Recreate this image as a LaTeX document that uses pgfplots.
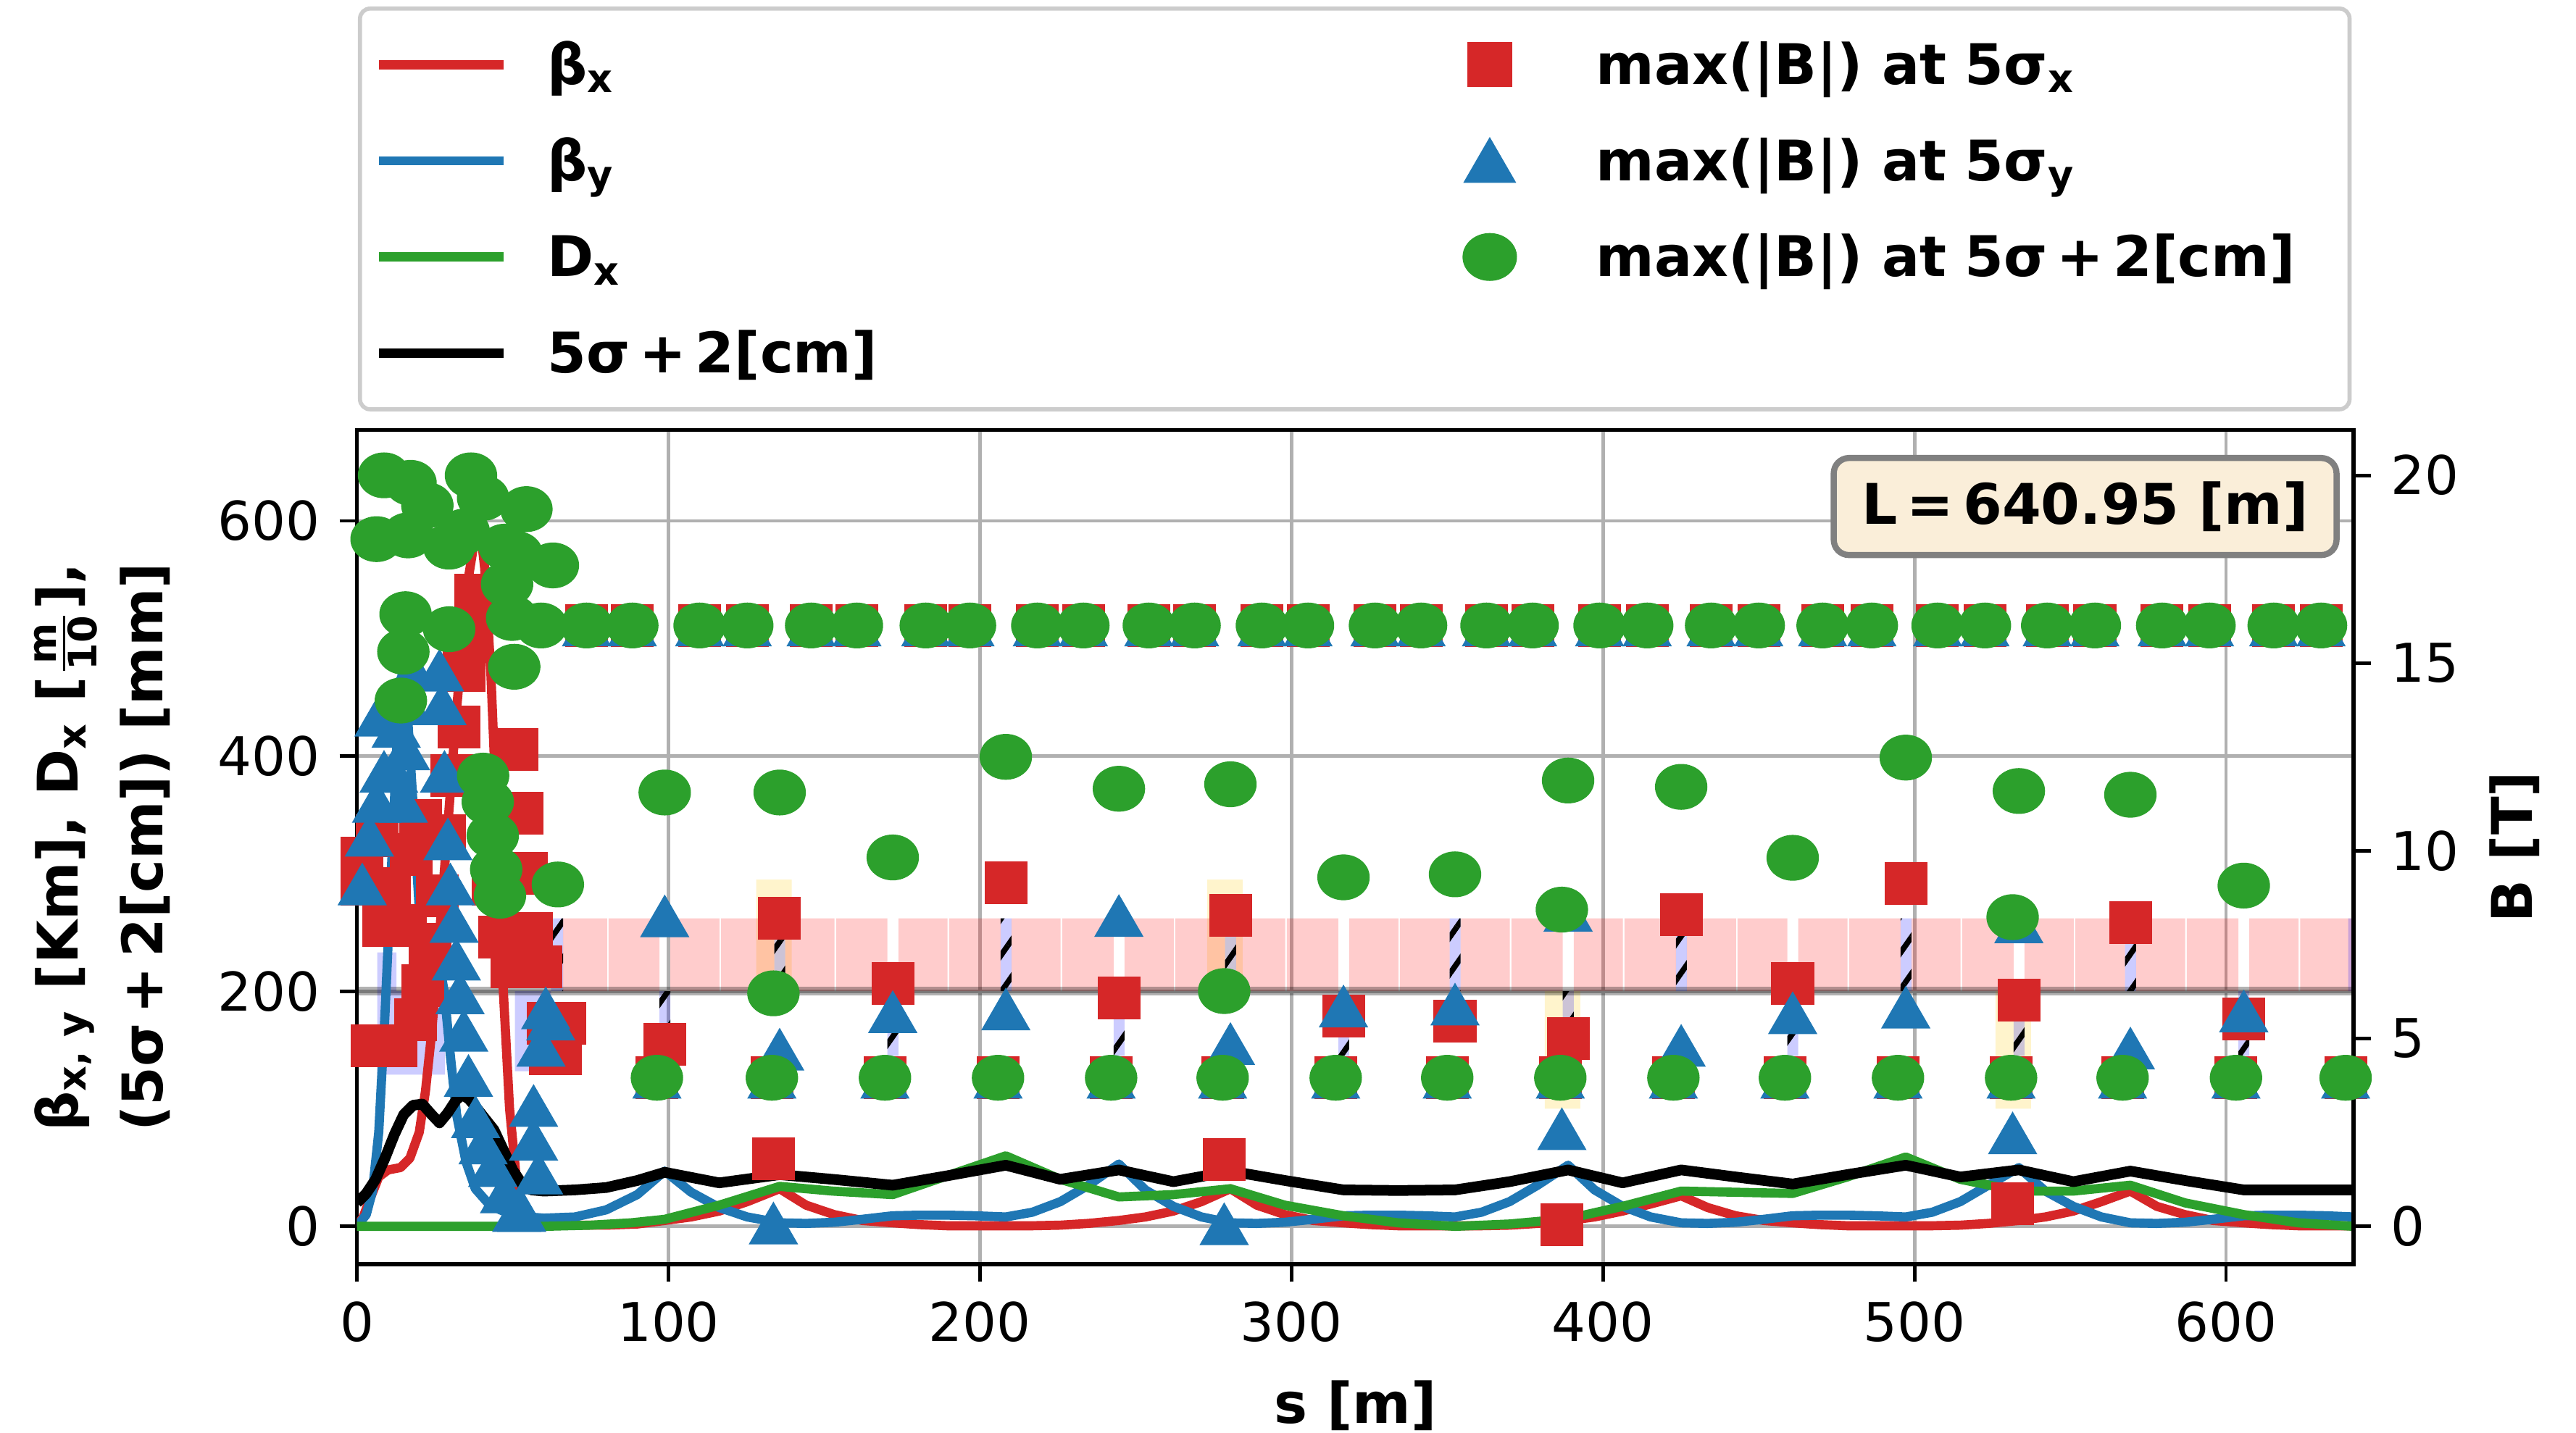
\documentclass[border=0pt]{standalone}
\usepackage{fontspec}
\setmainfont{DejaVu Sans}
\usepackage{amsmath}
\usepackage{pgfplots}
\pgfplotsset{compat=1.18}
\usetikzlibrary{patterns.meta}

\definecolor{cred}{HTML}{D62728}
\definecolor{cblue}{HTML}{1F77B4}
\definecolor{cgreen}{HTML}{2CA02C}
\definecolor{wheatbox}{RGB}{250,238,217}
\definecolor{sextcol}{RGB}{255,200,0}

\pgfplotsset{
  lineleg/.style={legend image code/.code={\draw[##1] (0cm,0cm) -- (0.86cm,0cm);}},
  markleg/.style={legend image code/.code={\path (0cm,0cm) (0.6cm,0cm); \draw[##1] plot[only marks] coordinates {(0.3cm,0cm)};}},
  sqmark/.style={only marks, mark=square*, color=cred, mark size=4pt, mark options={solid, draw=none, fill=cred}},
  trimark/.style={only marks, mark=triangle*, color=cblue, mark size=5.2pt, mark options={solid, draw=none, fill=cblue, yshift=-1.3pt}},
  cirmark/.style={only marks, mark=*, color=cgreen, mark size=4.3pt, mark options={solid, draw=none, fill=cgreen, xscale=1.15}},
}

\newlength\wtwo
\newlength\csep

\begin{document}%
\fontsize{11}{13.2}\selectfont%
\settowidth{\wtwo}{\bfseries 5σ\,+\,2[cm]}%
\setlength{\csep}{\dimexpr 6.19cm-\wtwo\relax}%
\begin{tikzpicture}
\useasboundingbox (-2.4635cm,-1.16cm) rectangle (15.315cm,8.7275cm);
\begin{axis}[
  at={(0,0)}, anchor=south west,
  scale only axis, width=13.78cm, height=5.76cm,
  xmin=0, xmax=640.95, ymin=-32.3, ymax=677.4,
  xtick={0,100,...,600}, ytick={0,200,400,600},
  xtick pos=bottom, ytick pos=left,
  tick align=outside, major tick length=0.12cm,
  tick style={black, line width=0.7pt},
  axis line style={line width=0.8pt},
  grid=major, grid style={black!31, line width=0.7pt},
  tick label style={font=\fontsize{10.5}{12}\selectfont},
  /pgf/number format/assume math mode=true,
  unbounded coords=jump,
  xlabel={\textbf{s [m]}},
  ylabel={\textbf{β\textsubscript{x, y} [Km], D\textsubscript{x} [$\frac{\text{m}}{\text{10}}$],}\\[3.5pt]\textbf{(5σ\,+\,2[cm]) [mm]}},
  every axis x label/.style={at={(axis description cs:0.5,-0.1155)}, anchor=north},
  every axis y label/.style={at={(axis description cs:-0.093,0.5)}, rotate=90, anchor=south, align=center, inner sep=0pt},
  legend columns=2, legend cell align=left,
  legend style={at={(axis description cs:0.0005,1)}, anchor=south west, yshift=0.128cm,
    draw=black!20, line width=0.8pt, rounded corners=2pt,
    inner xsep=0.1cm, inner ysep=0.163cm, row sep=0.2135cm,
    nodes={inner xsep=0pt, inner ysep=0pt, text height=0.36cm, text depth=0.09cm},
    /tikz/column 1/.style={column sep=0.27cm},
    /tikz/column 2/.style={column sep=\csep},
    /tikz/column 3/.style={column sep=0.42cm},
    /tikz/column 4/.style={nodes={text width=5.1cm}}},
]
% legend
\addlegendimage{lineleg, cred, line width=1.8pt}
\addlegendentry{\textbf{β\textsubscript{x}}}
\addlegendimage{markleg, sqmark}
\addlegendentry{\textbf{max(|B|) at 5σ\textsubscript{x}}}
\addlegendimage{lineleg, cblue, line width=1.8pt}
\addlegendentry{\textbf{β\textsubscript{y}}}
\addlegendimage{markleg, trimark}
\addlegendentry{\textbf{max(|B|) at 5σ\textsubscript{y}}}
\addlegendimage{lineleg, cgreen, line width=1.8pt}
\addlegendentry{\textbf{D\textsubscript{x}}}
\addlegendimage{markleg, cirmark}
\addlegendentry{\textbf{max(|B|) at 5σ\,+\,2[cm]}}
\addlegendimage{lineleg, black, line width=1.8pt}
\addlegendentry{\textbf{5σ\,+\,2[cm]}}

% lattice layout: sextupoles
\addplot[forget plot, draw=none, fill=sextcol, fill opacity=0.2] coordinates {
(128.2,200)(128.2,295)(139.6,295)(139.6,200)(139.6,nan)
(272.9,200)(272.9,295)(284.3,295)(284.3,200)(284.3,nan)
(381.3,200)(381.3,100)(392.7,100)(392.7,200)(392.7,nan)
(526.0,200)(526.0,100)(537.4,100)(537.4,200)};
% dipoles
\addplot[forget plot, draw=none, fill=red, fill opacity=0.2] coordinates {
(66.2,200)(66.2,262)(80.3,262)(80.3,200)(80.3,nan)
(80.8,200)(80.8,262)(97.1,262)(97.1,200)(97.1,nan)
(100.6,200)(100.6,262)(116.4,262)(116.4,200)(116.4,nan)
(116.9,200)(116.9,262)(134.0,262)(134.0,200)(134.0,nan)
(137.5,200)(137.5,262)(153.3,262)(153.3,200)(153.3,nan)
(153.8,200)(153.8,262)(170.3,262)(170.3,200)(170.3,nan)
(173.8,200)(173.8,262)(189.6,262)(189.6,200)(189.6,nan)
(190.1,200)(190.1,262)(206.6,262)(206.6,200)(206.6,nan)
(210.1,200)(210.1,262)(225.9,262)(225.9,200)(225.9,nan)
(226.4,200)(226.4,262)(242.9,262)(242.9,200)(242.9,nan)
(246.4,200)(246.4,262)(262.2,262)(262.2,200)(262.2,nan)
(262.7,200)(262.7,262)(278.7,262)(278.7,200)(278.7,nan)
(282.2,200)(282.2,262)(298.0,262)(298.0,200)(298.0,nan)
(298.5,200)(298.5,262)(315.0,262)(315.0,200)(315.0,nan)
(318.5,200)(318.5,262)(334.3,262)(334.3,200)(334.3,nan)
(334.8,200)(334.8,262)(350.8,262)(350.8,200)(350.8,nan)
(354.3,200)(354.3,262)(370.1,262)(370.1,200)(370.1,nan)
(370.6,200)(370.6,262)(387.1,262)(387.1,200)(387.1,nan)
(390.6,200)(390.6,262)(406.4,262)(406.4,200)(406.4,nan)
(406.9,200)(406.9,262)(423.4,262)(423.4,200)(423.4,nan)
(426.9,200)(426.9,262)(442.7,262)(442.7,200)(442.7,nan)
(443.2,200)(443.2,262)(459.2,262)(459.2,200)(459.2,nan)
(462.7,200)(462.7,262)(478.5,262)(478.5,200)(478.5,nan)
(479.0,200)(479.0,262)(495.5,262)(495.5,200)(495.5,nan)
(499.0,200)(499.0,262)(514.8,262)(514.8,200)(514.8,nan)
(515.3,200)(515.3,262)(531.8,262)(531.8,200)(531.8,nan)
(535.3,200)(535.3,262)(551.1,262)(551.1,200)(551.1,nan)
(551.6,200)(551.6,262)(567.6,262)(567.6,200)(567.6,nan)
(571.1,200)(571.1,262)(586.9,262)(586.9,200)(586.9,nan)
(587.4,200)(587.4,262)(604.0,262)(604.0,200)(604.0,nan)
(607.5,200)(607.5,262)(623.3,262)(623.3,200)(623.3,nan)
(623.8,200)(623.8,262)(640.95,262)(640.95,200)};
% quadrupoles
\addplot[forget plot, draw=none, fill=blue, fill opacity=0.2] coordinates {
(6.5,200)(6.5,233)(12.7,233)(12.7,200)(12.7,nan)
(6.5,129)(6.5,200)(28.2,200)(28.2,129)(28.2,nan)
(50.7,132)(50.7,200)(62.3,200)(62.3,132)(62.3,nan)
(62.3,200)(62.3,262)(66.2,262)(66.2,200)(66.2,nan)
(97.1,200)(97.1,145)(100.6,145)(100.6,200)(100.6,nan)
(134.0,200)(134.0,262)(137.5,262)(137.5,200)(137.5,nan)
(170.3,200)(170.3,145)(173.8,145)(173.8,200)(173.8,nan)
(206.6,200)(206.6,262)(210.1,262)(210.1,200)(210.1,nan)
(242.9,200)(242.9,145)(246.4,145)(246.4,200)(246.4,nan)
(278.7,200)(278.7,262)(282.2,262)(282.2,200)(282.2,nan)
(315.0,200)(315.0,145)(318.5,145)(318.5,200)(318.5,nan)
(350.8,200)(350.8,262)(354.3,262)(354.3,200)(354.3,nan)
(387.1,200)(387.1,145)(390.6,145)(390.6,200)(390.6,nan)
(423.4,200)(423.4,262)(426.9,262)(426.9,200)(426.9,nan)
(459.2,200)(459.2,145)(462.7,145)(462.7,200)(462.7,nan)
(495.5,200)(495.5,262)(499.0,262)(499.0,200)(499.0,nan)
(531.8,200)(531.8,145)(535.3,145)(535.3,200)(535.3,nan)
(567.6,200)(567.6,262)(571.1,262)(571.1,200)(571.1,nan)
(604.0,200)(604.0,145)(607.5,145)(607.5,200)(607.5,nan)
(639.2,200)(639.2,262)(640.95,262)(640.95,200)};
\addplot[forget plot, draw=none, pattern={Lines[angle=55,distance=0.145cm,line width=1.1pt]}, pattern color=black] coordinates {
(62.3,200)(62.3,262)(66.2,262)(66.2,200)(66.2,nan)
(97.1,200)(97.1,145)(100.6,145)(100.6,200)(100.6,nan)
(134.0,200)(134.0,262)(137.5,262)(137.5,200)(137.5,nan)
(170.3,200)(170.3,145)(173.8,145)(173.8,200)(173.8,nan)
(206.6,200)(206.6,262)(210.1,262)(210.1,200)(210.1,nan)
(242.9,200)(242.9,145)(246.4,145)(246.4,200)(246.4,nan)
(278.7,200)(278.7,262)(282.2,262)(282.2,200)(282.2,nan)
(315.0,200)(315.0,145)(318.5,145)(318.5,200)(318.5,nan)
(350.8,200)(350.8,262)(354.3,262)(354.3,200)(354.3,nan)
(387.1,200)(387.1,145)(390.6,145)(390.6,200)(390.6,nan)
(423.4,200)(423.4,262)(426.9,262)(426.9,200)(426.9,nan)
(459.2,200)(459.2,145)(462.7,145)(462.7,200)(462.7,nan)
(495.5,200)(495.5,262)(499.0,262)(499.0,200)(499.0,nan)
(531.8,200)(531.8,145)(535.3,145)(535.3,200)(535.3,nan)
(567.6,200)(567.6,262)(571.1,262)(571.1,200)(571.1,nan)
(604.0,200)(604.0,145)(607.5,145)(607.5,200)};
% reference line of the layout
\addplot[forget plot, black, opacity=0.3, line width=1.7pt] coordinates {(0,200) (640.95,200)};

% beta_x
\addplot[forget plot, cred, line width=1.8pt, line join=round] coordinates {
(0,0) (2,8) (4,22) (7,42) (10,48) (14,50) (17,58) (20,80) (22,115) (24,165) (26,230)
(28,300) (30,370) (32,440) (34,500) (36,555) (38,588) (39.4,598) (41,560) (43,470)
(45,340) (47,200) (49,100) (51,45) (53,20) (56,8) (60,3) (70,1) (80,1) (90,2)
(98.8,5) (107.3,8) (116.3,13) (125.3,21)
(135.7,32) (144.2,18) (153.2,10) (162.2,5)
(172,3) (180.5,1.5) (189.5,0.5) (198.5,0.5)
(208.3,0.5) (216.8,0.5) (225.8,1) (234.8,2.5)
(244.6,5) (253.1,8) (262.1,13) (271.1,21)
(280.4,32) (288.9,18) (297.9,10) (306.9,5)
(316.7,3) (325.2,1.5) (334.2,0.5) (343.2,0.5)
(352.5,0.5) (361,0.5) (370,1) (379,2.5)
(388.8,5) (397.3,8) (406.3,13) (415.3,19)
(425.1,26) (433.6,16) (442.6,9) (451.6,5)
(460.9,3) (469.4,1.5) (478.4,0.5) (487.4,0.5)
(497.2,0.5) (505.7,0.5) (514.7,1) (523.7,2.5)
(533.5,5) (542,8) (551,13) (560,21)
(569.3,30) (577.8,17) (586.8,10) (595.8,5)
(605.7,3) (614.2,1.5) (623.2,0.5) (632.2,0.5) (640.95,0.5)};
% beta_y
\addplot[forget plot, cblue, line width=1.8pt, line join=round] coordinates {
(0,0) (3,10) (5,30) (7,80) (9,180) (11,300) (13,420) (14.5,470) (16,445) (18,360)
(20,270) (22,235) (24,240) (26,230) (28,200) (30,145) (32,95) (35,55) (38,32)
(42,20) (46,14) (50,10) (55,8) (60,7) (70,8) (80,14) (90,27)
(98.8,47) (107.3,29) (116.3,16) (125.3,8)
(135.7,3) (144.2,2.5) (153.2,3.5) (162.2,6)
(172,9) (180.5,9.5) (189.5,9.5) (198.5,9)
(208.3,8) (216.8,12) (225.8,21) (234.8,35)
(244.6,53) (253.1,31) (262.1,17) (271.1,8)
(280.4,3) (288.9,2.5) (297.9,3.5) (306.9,6)
(316.7,9) (325.2,9.5) (334.2,9.5) (343.2,9)
(352.5,8) (361,12) (370,21) (379,35)
(388.8,52) (397.3,31) (406.3,17) (415.3,8)
(425.1,3) (433.6,2.5) (442.6,3.5) (451.6,6)
(460.9,9) (469.4,9.5) (478.4,9.5) (487.4,9)
(497.2,8) (505.7,12) (514.7,21) (523.7,35)
(533.5,50) (542,30) (551,17) (560,8)
(569.3,3) (577.8,2.5) (586.8,3.5) (595.8,6)
(605.7,9) (614.2,9.5) (623.2,9.5) (632.2,9) (640.95,8)};
% D_x
\addplot[forget plot, cgreen, line width=1.8pt, line join=round] coordinates {
(0,0) (60,0) (75,1) (88,3)
(98.8,6) (116.3,18) (135.7,34) (152.7,30) (172,27) (189.5,43) (208.3,60) (225.8,40)
(244.6,25) (262.1,27) (280.4,32) (297.9,18) (316.7,9) (334.2,3) (352.5,0) (370,2)
(388.8,6.5) (406.3,17) (425.1,30) (442.6,29) (460.9,28) (478.4,42) (497.2,59) (514.7,40)
(533.5,30) (551,30) (569.3,35) (586.8,20) (605.7,10) (623.2,3) (640.95,0)};
% 5 sigma + 2 cm
\addplot[forget plot, black, line width=2.1pt, line join=round] coordinates {
(0,20) (3,28) (6,40) (9,58) (12,78) (15,95) (18,103) (21,104) (24,95) (26.5,88)
(29,96) (32,108) (34,112) (36,108) (38,102) (41,92) (44,82) (47,65) (50,48) (53,36)
(56,31) (60,30) (70,31) (80,33) (90,39)
(98.8,46) (116.3,37) (135.7,44) (152.7,40) (172,35) (189.5,43) (208.3,52) (225.8,40)
(244.6,48) (262.1,38) (280.4,47) (297.9,39) (316.7,31) (334.2,30.5) (352.5,31) (370,38)
(388.8,48) (406.3,37) (425.1,48) (442.6,42) (460.9,36) (478.4,44) (497.2,52) (514.7,42)
(533.5,48) (551,38) (569.3,47) (586.8,39) (605.7,31) (623.2,31) (640.95,31)};
\end{axis}

\begin{axis}[
  at={(0,0)}, anchor=south west,
  scale only axis, width=13.78cm, height=5.76cm,
  xmin=0, xmax=640.95, ymin=-1.02, ymax=21.21,
  axis y line*=right, axis x line=none,
  ytick={0,5,10,15,20},
  tick align=outside, major tick length=0.12cm,
  tick style={black, line width=0.7pt},
  axis line style={line width=0.8pt},
  tick label style={font=\fontsize{10.5}{12}\selectfont},
  /pgf/number format/assume math mode=true,
  ylabel={\textbf{B [T]}},
  every axis y label/.style={at={(axis description cs:1.0584,0.5)}, rotate=90, anchor=north},
]
% max |B| at 5 sigma_x
\addplot[sqmark] coordinates {
(1.7,9.8) (1.7,9.1) (4.8,4.8) (6.5,10.4) (8.7,8.0) (10.5,9.0) (12.5,4.8) (15.6,8.0)
(17.5,9.9) (18.8,5.5) (20.5,10.8) (21.1,6.4) (23.4,7.5) (25.7,8.8) (28.1,10.4) (30.4,12.0)
(32.7,13.3) (34.3,14.8) (36.6,15.9) (38.1,16.8) (43.6,9.1) (45.9,7.7) (49.8,6.9)
(51.3,12.7) (52.9,11.0) (54.4,9.4) (56.0,7.8) (59.1,6.9) (61.4,5.4) (62.2,4.6) (65.3,4.6) (66.8,5.4)
(96.3,3.95) (133.2,3.95) (169.5,3.95) (205.8,3.95) (242.1,3.95) (277.9,3.95) (314.2,3.95) (350.0,3.95)
(386.3,3.95) (422.6,3.95) (458.4,3.95) (494.7,3.95) (531.0,3.95) (566.8,3.95) (603.2,3.95) (638.4,3.95)
(73.7,16) (88.4,16) (110.0,16) (125.3,16) (145.8,16) (160.5,16) (182.6,16) (196.8,16)
(218.4,16) (233.2,16) (254.2,16) (268.9,16) (290.5,16) (305.3,16) (326.8,16) (341.6,16)
(362.6,16) (377.4,16) (398.9,16) (414.2,16) (434.7,16) (450.0,16) (470.5,16) (486.3,16)
(507.4,16) (522.6,16) (542.6,16) (557.9,16) (579.5,16) (594.7,16) (615.3,16) (630.5,16)
(98.8,4.85) (135.7,8.2) (133.7,1.8) (172,6.46) (208.3,9.14) (244.6,6.07) (280.4,8.28) (278.4,1.77)
(316.7,5.6) (352.5,5.45) (388.8,5.0) (386.8,0.04) (425.1,8.3) (460.9,6.46) (497.2,9.12)
(533.5,6.02) (531.5,0.59) (569.3,8.09) (605.7,5.52)};
% max |B| at 5 sigma_y
\addplot[trimark] coordinates {
(1.7,9.1) (4.0,10.4) (6.3,11.3) (8.7,12.1) (7.1,13.6) (11.8,12.1) (12.6,13.3) (15.6,12.7)
(14.9,11.3) (18.0,14.8) (16.4,13.9) (26.5,14.8) (27.3,13.9) (28.1,12.1) (29.2,10.3) (30,9.1)
(31.2,8.1) (31.9,7.1) (33.1,6.2) (34.3,5.2) (35.8,4.0) (38.1,2.9) (40.5,2.2) (43.6,1.6)
(47.4,0.9) (51.3,0.4) (52.9,0.4) (56.7,3.2) (56.7,2.3) (58.3,1.4) (60.6,5.8) (59.1,4.8) (62.2,5.5)
(96.3,3.95) (133.2,3.95) (169.5,3.95) (205.8,3.95) (242.1,3.95) (277.9,3.95) (314.2,3.95) (350.0,3.95)
(386.3,3.95) (422.6,3.95) (458.4,3.95) (494.7,3.95) (531.0,3.95) (566.8,3.95) (603.2,3.95) (638.4,3.95)
(73.7,16) (88.4,16) (110.0,16) (125.3,16) (145.8,16) (160.5,16) (182.6,16) (196.8,16)
(218.4,16) (233.2,16) (254.2,16) (268.9,16) (290.5,16) (305.3,16) (326.8,16) (341.6,16)
(362.6,16) (377.4,16) (398.9,16) (414.2,16) (434.7,16) (450.0,16) (470.5,16) (486.3,16)
(507.4,16) (522.6,16) (542.6,16) (557.9,16) (579.5,16) (594.7,16) (615.3,16) (630.5,16)
(98.8,8.25) (135.7,4.7) (133.7,0.07) (172,5.7) (208.3,5.77) (244.6,8.26) (280.4,4.85) (278.4,0.05)
(316.7,5.85) (352.5,5.9) (388.8,8.4) (386.8,2.58) (425.1,4.8) (460.9,5.67) (497.2,5.82)
(533.5,8.09) (531.5,2.47) (569.3,4.73) (605.7,5.72)};
% max |B| at 5 sigma + 2 cm
\addplot[cirmark] coordinates {
(8.7,20.0) (17.2,19.8) (22.6,19.2) (36.6,20.0) (40.5,19.4) (54.4,19.1) (6.3,18.3) (16.4,18.4)
(29.6,18.1) (34.3,18.5) (47.4,18.1) (51.3,17.9) (62.9,17.6) (15.6,16.3) (29.6,15.9) (48.2,17.1)
(49.8,16.2) (59.1,16.0) (14.9,15.3) (50.5,14.9) (14.1,14.0) (40.5,12.0) (42.0,11.3) (43.6,10.4)
(44.7,9.5) (45.9,8.8) (64.5,9.1)
(96.3,3.95) (133.2,3.95) (169.5,3.95) (205.8,3.95) (242.1,3.95) (277.9,3.95) (314.2,3.95) (350.0,3.95)
(386.3,3.95) (422.6,3.95) (458.4,3.95) (494.7,3.95) (531.0,3.95) (566.8,3.95) (603.2,3.95) (638.4,3.95)
(73.7,16) (88.4,16) (110.0,16) (125.3,16) (145.8,16) (160.5,16) (182.6,16) (196.8,16)
(218.4,16) (233.2,16) (254.2,16) (268.9,16) (290.5,16) (305.3,16) (326.8,16) (341.6,16)
(362.6,16) (377.4,16) (398.9,16) (414.2,16) (434.7,16) (450.0,16) (470.5,16) (486.3,16)
(507.4,16) (522.6,16) (542.6,16) (557.9,16) (579.5,16) (594.7,16) (615.3,16) (630.5,16)
(98.8,11.55) (135.7,11.55) (133.7,6.2) (172,9.82) (208.3,12.5) (244.6,11.65) (280.4,11.77) (278.4,6.26)
(316.7,9.29) (352.5,9.37) (388.8,11.87) (386.8,8.43) (425.1,11.7) (460.9,9.81) (497.2,12.48)
(533.5,11.59) (531.5,8.23) (569.3,11.49) (605.7,9.07)};
\node[anchor=north east, fill=wheatbox, draw=black!50, line width=1.2pt, rounded corners=3pt,
  minimum width=3.47cm, minimum height=0.67cm, inner sep=0pt,
  font=\fontsize{11}{13}\selectfont\bfseries] at (rel axis cs:0.993,0.97) {L\,=\,640.95 [m]};
\end{axis}
\end{tikzpicture}%
\end{document}
